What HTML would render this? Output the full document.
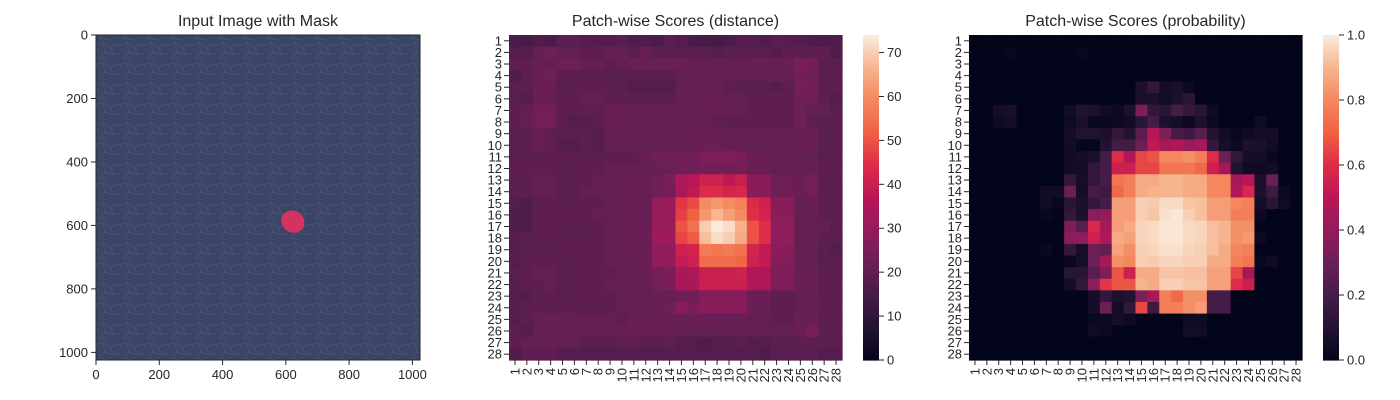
<!DOCTYPE html>
<html><head><meta charset="utf-8">
<style>
html,body{margin:0;padding:0;background:#fff;}
svg{display:block;font-family:"Liberation Sans",sans-serif;}
</style></head>
<body>
<svg id="fig" width="1400" height="400" viewBox="0 0 1400 400">
<defs>
<pattern id="leather" width="24" height="20" patternUnits="userSpaceOnUse">
<rect width="24" height="20" fill="#3b4566"/>
<path d="M0 5 L7 2 L14 7 L24 4 M7 2 L9 12 L3 18 M14 7 L18 15 L24 13 M9 12 L18 15 M3 18 L12 20" stroke="#4b5679" stroke-width="0.7" fill="none"/>
</pattern>
</defs>
<g id="root"></g>
</svg>
<script>
const rowLabels=[1,2,3,4,5,6,7,8,9,10,11,12,13,14,15,16,17,18,19,20,21,22,23,24,25,26,27,28];
const colLabels=[1,2,3,4,5,6,7,8,9,10,11,12,13,14,15,16,17,18,19,20,21,22,23,24,25,26,27,28];
const imgTicks=[0,200,400,600,800,1000];
const distTicks=[0,10,20,30,40,50,60,70];
const probTicks=[0,0.2,0.4,0.6,0.8,1.0];
const maskCenter=[622,588];
const maskRadius=[38,34];
const distance=[
[16,15,17,16,19,19,18,18,18,19,17,17,16,19,18,16,15,15,16,18,18,17,19,18,18,17,16,17],
[18,18,21,23,21,21,20,20,21,22,19,22,19,19,19,19,19,18,19,19,19,19,18,20,20,20,20,17],
[20,20,21,21,23,23,21,21,20,21,22,22,22,22,22,21,21,21,21,21,22,22,22,22,25,24,19,19],
[17,20,22,23,20,20,19,19,19,19,19,19,19,19,21,21,21,21,21,21,21,21,21,21,24,23,19,19],
[19,19,22,22,19,19,20,20,19,19,18,18,18,18,21,22,21,21,20,19,19,19,18,20,24,24,20,19],
[19,18,22,22,20,20,21,21,20,20,19,19,19,20,21,21,22,22,21,21,20,20,20,20,23,23,20,18],
[20,21,24,24,20,19,20,20,22,22,21,21,21,21,21,21,21,22,22,21,20,20,20,20,23,21,21,19],
[20,21,24,24,20,18,18,20,22,22,21,21,21,21,21,21,21,20,20,20,20,20,20,20,23,20,19,19],
[19,20,22,20,19,19,19,18,21,21,21,21,22,21,22,22,22,22,21,21,21,21,21,21,22,22,19,19],
[19,20,22,20,18,18,19,18,21,21,21,21,21,22,21,22,22,22,21,21,21,21,21,21,22,22,19,19],
[19,19,19,20,20,20,20,20,20,20,20,22,23,23,23,23,26,26,26,25,22,22,21,21,21,21,19,19],
[20,20,20,20,19,20,20,20,21,21,21,21,22,22,23,23,24,24,24,24,22,22,21,21,21,21,20,20],
[19,20,21,21,19,19,20,21,21,21,22,22,23,25,35,37,41,41,38,40,28,28,23,23,22,24,20,19],
[19,20,21,21,19,19,21,21,22,21,22,22,23,24,35,38,44,44,42,43,28,28,23,23,22,24,20,19],
[18,17,20,20,19,20,20,20,21,21,22,22,30,31,46,49,60,62,60,58,44,41,28,28,21,22,19,19],
[17,17,20,20,20,20,20,21,21,21,22,22,30,31,47,52,62,67,63,60,45,42,28,28,21,22,20,19],
[17,17,20,20,20,20,20,20,21,22,22,22,31,31,50,55,70,74,72,66,50,45,29,29,21,21,21,19],
[18,19,20,20,19,19,19,20,21,22,22,22,32,32,48,51,68,72,70,65,50,45,29,29,21,21,20,19],
[18,19,20,19,20,20,20,20,21,21,22,22,29,29,41,42,57,56,57,55,42,39,28,28,21,21,19,18],
[18,19,20,20,19,19,20,20,21,21,22,22,29,29,39,41,54,54,54,53,41,39,27,27,21,21,19,19],
[19,20,21,21,19,19,20,20,20,21,21,22,24,25,34,35,40,40,40,41,35,35,26,26,22,22,20,19],
[18,20,20,21,19,19,20,20,21,21,21,22,24,25,34,34,40,40,40,40,35,35,26,26,22,22,20,20],
[18,18,20,20,19,19,20,20,20,21,21,21,22,22,23,23,27,27,27,27,22,22,20,20,21,21,20,20],
[18,19,20,20,20,20,19,19,20,21,21,21,22,23,27,25,28,28,28,28,22,22,20,20,21,21,20,20],
[18,19,21,22,21,21,21,21,21,20,22,22,22,22,22,22,22,22,22,22,21,21,20,20,22,22,20,20],
[20,18,21,21,21,22,22,22,21,21,22,22,22,22,21,21,21,21,21,21,21,21,21,21,22,25,20,20],
[20,21,21,21,21,21,19,19,19,20,20,19,19,20,18,18,17,18,18,19,18,18,19,19,20,20,19,19],
[17,20,20,20,18,18,18,18,18,18,18,18,18,18,18,18,18,18,18,18,18,17,19,19,19,19,18,18]
];
const probability=[
[0,0,0,0,0,0,0,0,0,0,0,0,0,0,0,0,0,0,0,0,0,0,0,0,0,0,0,0],
[0,0,0,.02,0,0,0,0,0,.02,0,0,0,0,0,0,0,0,0,0,0,0,0,0,0,0,0,0],
[0,0,0,0,0,0,0,0,0,0,0,0,0,0,0,0,0,0,0,0,0,0,0,0,0,0,0,0],
[0,0,0,0,0,0,0,0,0,0,0,0,0,0,0,0,0,0,0,0,0,0,0,0,0,0,0,0],
[0,0,0,0,0,0,0,0,0,0,0,0,0,0,.08,.15,.05,.07,.03,0,0,0,0,0,0,0,0,0],
[0,0,0,0,0,0,0,0,0,0,0,0,0,0,.08,.08,.05,.08,.12,0,0,0,0,0,0,0,0,0],
[0,0,.06,.07,0,0,0,0,.05,.1,.08,.05,.03,.08,.35,.15,.12,.2,.15,.12,.04,0,0,0,0,0,0,0],
[0,0,.04,.06,0,0,0,0,.04,.08,.02,.02,.03,.05,.12,.2,.08,.06,.03,.08,.03,0,0,0,.04,0,0,0],
[0,0,0,0,0,0,0,0,.06,.1,.1,.08,.15,.1,.25,.5,.35,.2,.18,.25,.1,.05,.02,.04,.06,.06,0,0],
[0,0,0,0,0,0,0,0,.05,.01,.01,.1,.2,.2,.3,.52,.45,.48,.42,.45,.15,.06,.03,.08,.08,.05,0,0],
[0,0,0,0,0,0,0,0,.05,.06,.08,.2,.6,.48,.65,.68,.8,.8,.82,.78,.6,.3,.15,.06,.06,.02,0,0],
[0,0,0,0,0,0,0,0,.05,.05,.15,.2,.55,.55,.65,.65,.75,.75,.75,.72,.55,.45,.1,.04,.04,.05,0,0],
[0,0,0,0,0,0,0,0,.15,.06,.15,.2,.75,.78,.88,.88,.9,.9,.88,.88,.8,.8,.45,.5,.08,.3,0,0],
[0,0,0,0,0,0,.05,.05,.3,.06,.2,.18,.72,.78,.88,.9,.9,.9,.88,.88,.8,.8,.48,.58,.08,.18,.03,0],
[0,0,0,0,0,0,.05,.02,.12,.08,.15,.2,.85,.85,.95,.94,.97,.97,.93,.92,.85,.85,.8,.78,.06,.12,.04,0],
[0,0,0,0,0,0,.02,0,.15,.08,.38,.4,.85,.85,.95,.93,.98,.99,.95,.92,.85,.85,.78,.78,.03,0,0,0],
[0,0,0,0,0,0,0,0,.35,.25,.58,.45,.85,.88,.96,.97,.99,.99,.97,.96,.92,.9,.82,.82,0,0,0,0],
[0,0,0,0,0,0,0,0,.38,.4,.55,.48,.88,.86,.96,.97,.99,.99,.97,.96,.92,.9,.82,.84,.03,0,0,0],
[0,0,0,0,0,0,.03,0,.15,.06,.3,.28,.86,.82,.95,.96,.98,.98,.96,.95,.92,.88,.8,.78,0,0,0,0],
[0,0,0,0,0,0,0,0,.02,.06,.3,.45,.82,.8,.95,.94,.96,.96,.95,.95,.88,.88,.78,.75,.02,.04,0,0],
[0,0,0,0,0,0,0,0,.12,.12,.25,.35,.68,.55,.88,.88,.93,.93,.92,.92,.86,.86,.65,.45,0,0,0,0],
[0,0,0,0,0,0,0,0,.06,.15,.38,.62,.68,.68,.9,.88,.95,.95,.93,.93,.86,.86,.6,.55,0,0,0,0],
[0,0,0,0,0,0,0,0,0,0,.06,.15,.08,.1,.35,.45,.78,.72,.82,.82,.2,.2,0,0,0,0,0,0],
[0,0,0,0,0,0,0,0,0,0,.06,.3,.05,.15,.65,.18,.78,.78,.82,.85,.2,.2,0,0,0,0,0,0],
[0,0,0,0,0,0,0,0,0,0,.02,.03,.06,.04,0,0,0,0,.04,.04,0,0,0,0,0,0,0,0],
[0,0,0,0,0,0,0,0,0,0,.04,.03,0,0,0,0,0,0,.05,.05,0,0,0,0,0,0,0,0],
[0,0,0,0,0,0,0,0,0,0,0,0,0,0,0,0,0,0,0,0,0,0,0,0,0,0,0,0],
[0,0,0,0,0,0,0,0,0,0,0,0,0,0,0,0,0,0,0,0,0,0,0,0,0,0,0,0]
];
const rocket=[[0,[3,5,26]],[0.1,[34,19,49]],[0.2,[69,28,71]],[0.3,[106,31,86]],[0.4,[146,28,91]],[0.5,[185,22,87]],[0.6,[222,43,72]],[0.7,[240,96,67]],[0.8,[244,135,94]],[0.9,[246,180,142]],[1,[250,235,221]]];
function cmap(t){t=Math.max(0,Math.min(1,t));for(let i=1;i<rocket.length;i++){if(t<=rocket[i][0]){const a=rocket[i-1],b=rocket[i];const f=(t-a[0])/(b[0]-a[0]);const c=a[1].map((v,k)=>Math.round(v+(b[1][k]-v)*f));return `rgb(${c[0]},${c[1]},${c[2]})`;}}return 'rgb(250,235,221)';}
const NS='http://www.w3.org/2000/svg';
const root=document.getElementById('root');
function el(tag,attrs,parent){const e=document.createElementNS(NS,tag);for(const k in attrs)e.setAttribute(k,attrs[k]);(parent||root).appendChild(e);return e;}
function txt(s,attrs,parent){const t=el('text',attrs,parent);t.textContent=s;return t;}

const p1={x:96,y:35,w:324,h:325,n:1024};
const g1=el('g',{});


const ix=v=>p1.x+v/p1.n*p1.w, iy=v=>p1.y+v/p1.n*p1.h;
const t1=txt('Input Image with Mask',{x:p1.x+p1.w/2,y:26,'text-anchor':'middle','font-size':16,fill:'#262626'},g1);


const img=el('rect',{x:p1.x,y:p1.y,width:p1.w,height:p1.h,fill:'url(#leather)'},g1);


const mask=el('ellipse',{cx:ix(maskCenter[0]),cy:iy(maskCenter[1]),rx:maskRadius[0]/p1.n*p1.w,ry:maskRadius[1]/p1.n*p1.h,fill:'#d6325f',transform:`rotate(35 ${ix(maskCenter[0])} ${iy(maskCenter[1])})`},g1);


el('rect',{x:p1.x,y:p1.y,width:p1.w,height:p1.h,fill:'none',stroke:'#262626','stroke-width':1},g1);
imgTicks.forEach(v=>{
  el('line',{x1:ix(v),x2:ix(v),y1:p1.y+p1.h,y2:p1.y+p1.h+5,stroke:'#262626'},g1);
  const a=txt(String(v),{x:ix(v),y:p1.y+p1.h+19,'text-anchor':'middle','font-size':13,fill:'#262626'},g1);
  
  
  el('line',{x1:p1.x-5,x2:p1.x,y1:iy(v),y2:iy(v),stroke:'#262626'},g1);
  const b=txt(String(v),{x:p1.x-8,y:iy(v)+4.5,'text-anchor':'end','font-size':13,fill:'#262626'},g1);
  
  
});

function heatmap(name,title,data,vmax,ticks,x0,cbx,fmt){
  const g=el('g',{});
  
  
  const y0=35,W=333,H=325,n=28,cw=W/n,ch=H/n;
  const sx=c=>x0+c*cw, sy=r=>y0+r*ch;
  const tt=txt(title,{x:x0+W/2,y:26,'text-anchor':'middle','font-size':16,fill:'#262626'},g);
  
  
  data.forEach((row,r)=>row.forEach((v,c)=>{
    const cell=el('rect',{x:sx(c),y:sy(r),width:cw+0.6,height:ch+0.6,fill:cmap(v/vmax)},g);
    
    
  }));
  rowLabels.forEach((l,r)=>{
    const y=sy(r+0.5);
    el('line',{x1:x0-5,x2:x0,y1:y,y2:y,stroke:'#262626'},g);
    const a=txt(String(l),{x:x0-7,y:y+4.5,'text-anchor':'end','font-size':13,fill:'#262626'},g);
    
    
  });
  colLabels.forEach((l,c)=>{
    const x=sx(c+0.5);
    el('line',{x1:x,x2:x,y1:y0+H,y2:y0+H+5,stroke:'#262626'},g);
    const a=txt(String(l),{x:0,y:0,'text-anchor':'end','font-size':13,fill:'#262626',transform:`translate(${x+4.5},${y0+H+8}) rotate(-90)`},g);
    
    
  });
  const cb=el('g',{},g);
  
  
  const steps=100;
  for(let i=0;i<steps;i++){
    el('rect',{x:cbx,y:y0+H-(i+1)*H/steps,width:16,height:H/steps+0.6,fill:cmap((i+0.5)/steps)},cb);
  }
  const cy=v=>y0+H-v/vmax*H;
  ticks.forEach(v=>{
    el('line',{x1:cbx+16,x2:cbx+21,y1:cy(v),y2:cy(v),stroke:'#262626'},cb);
    const a=txt(fmt(v),{x:cbx+24,y:cy(v)+4.5,'font-size':13,fill:'#262626'},cb);
    
    
  });
}
heatmap('distance-heatmap','Patch-wise Scores (distance)',distance,74,distTicks,509,863,v=>String(v));
heatmap('probability-heatmap','Patch-wise Scores (probability)',probability,1,probTicks,969,1323,v=>v.toFixed(1));
</script>
</body></html>
